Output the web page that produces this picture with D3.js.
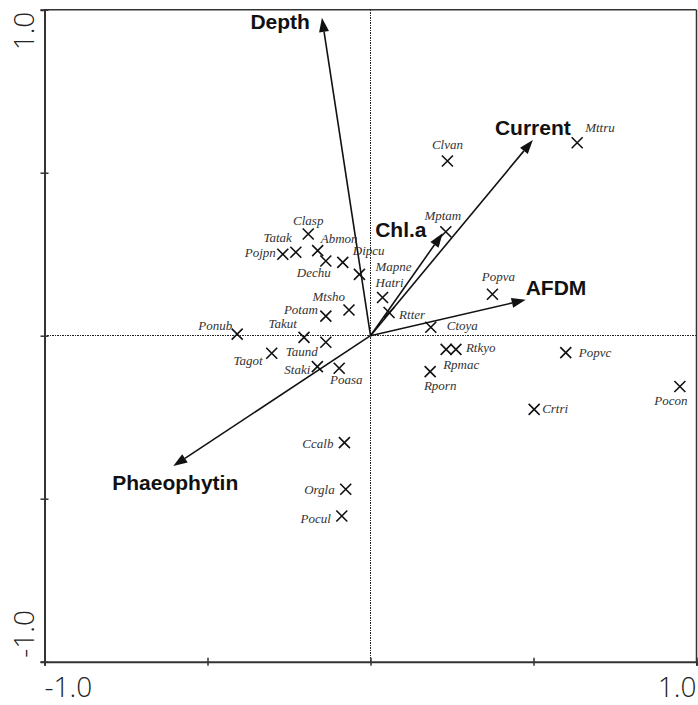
<!DOCTYPE html>
<html><head><meta charset="utf-8">
<script src="https://cdn.jsdelivr.net/npm/d3@7"></script>
<style>body{margin:0;background:#fff}svg{display:block}</style>
</head><body>
<svg id="c" width="698" height="705"></svg>
<script>
// Species scores (axis 1, axis 2)
const species = ["Clasp","Tatak","Pojpn","Abmon","Dechu","Dipcu","Mapne","Hatri","Rtter","Mtsho","Potam","Ponub","Takut","Taund","Tagot","Staki","Poasa","Ccalb","Orgla","Pocul","Clvan","Mttru","Mptam","Popva","Ctoya","Rpmac","Rtkyo","Rporn","Popvc","Crtri","Pocon"];
const speciesX = [-0.191,-0.229,-0.269,-0.162,-0.137,-0.085,-0.034,0.037,0.057,-0.066,-0.137,-0.409,-0.204,-0.137,-0.303,-0.163,-0.096,-0.080,-0.076,-0.088,0.236,0.634,0.231,0.374,0.185,0.232,0.262,0.183,0.599,0.502,0.949];
const speciesY = [0.312,0.256,0.250,0.261,0.229,0.225,0.188,0.117,0.071,0.079,0.060,0.005,-0.005,-0.020,-0.054,-0.095,-0.100,-0.328,-0.471,-0.553,0.536,0.592,0.319,0.127,0.026,-0.042,-0.042,-0.110,-0.052,-0.226,-0.156];
// Environmental variables (arrow tips)
const variables = ["Depth","Current","Chl.a","AFDM","Phaeophytin"];
const varX = [-0.149,0.498,0.221,0.476,-0.605];
const varY = [0.975,0.600,0.314,0.110,-0.400];
// Axis ticks
const tickValues = [-1,-0.5,0,0.5,1];
const tickLabels = ["-1.0","1.0"];

// Layout: label offsets [dx, dy, anchor]
const spLabelPos = {
  Clasp:[0,-9,"middle"], Tatak:[-4,-10,"end"], Pojpn:[-7,3,"end"], Abmon:[3,-8,"start"],
  Dechu:[-12,16,"middle"], Dipcu:[10,-7,"start"], Mapne:[16,-3,"start"], Hatri:[-7,-11,"start"],
  Rtter:[10,6,"start"], Mtsho:[-4,-9,"end"], Potam:[-8,-2,"end"], Ponub:[-5,-4,"end"],
  Takut:[-7,-9,"end"], Taund:[-8,14,"end"], Tagot:[-9,12,"end"], Staki:[-7,7,"end"],
  Poasa:[7,16,"middle"], Ccalb:[-11,5,"end"], Orgla:[-11,5,"end"], Pocul:[-11,7,"end"],
  Clvan:[0,-12,"middle"], Mttru:[8,-11,"start"], Mptam:[-3,-12,"middle"], Popva:[6,-13,"middle"],
  Ctoya:[16,3,"start"], Rpmac:[-3,20,"start"], Rtkyo:[10,3,"start"], Rporn:[10,18,"middle"],
  Popvc:[13,4,"start"], Crtri:[8,4,"start"], Pocon:[-9,18,"middle"]
};
const varLabelPos = {
  "Depth":[-12,11,"end"], "Current":[0,-5,"middle"], "Chl.a":[-16,4,"end"],
  "AFDM":[0,-5,"start"], "Phaeophytin":[2,24,"middle"]
};

const svg = d3.select("#c");
const x = d3.scaleLinear().domain([-1,1]).range([44.5,696.5]);
const y = d3.scaleLinear().domain([-1,1]).range([661.7,9.7]);
const axCol = "#333";

// crosshair dotted lines
svg.append("line").attr("x1",x(0)).attr("x2",x(0)).attr("y1",y(1)).attr("y2",y(-1))
  .attr("stroke","#222").attr("stroke-width",1).attr("stroke-dasharray","1.5,1")
  .attr("shape-rendering","crispEdges");
svg.append("line").attr("x1",x(-1)).attr("x2",x(1)).attr("y1",y(0)).attr("y2",y(0))
  .attr("stroke","#222").attr("stroke-width",1).attr("stroke-dasharray","1.5,1")
  .attr("shape-rendering","crispEdges");

// frame top and right
svg.append("line").attr("x1",x(-1)).attr("x2",x(1)).attr("y1",y(1)).attr("y2",y(1))
  .attr("stroke",axCol).attr("stroke-width",1.5);
svg.append("line").attr("x1",x(1)).attr("x2",x(1)).attr("y1",y(1)).attr("y2",y(-1))
  .attr("stroke",axCol).attr("stroke-width",1.5);

// axes
const gx = svg.append("g").attr("transform",`translate(0,${y(-1)})`)
  .call(d3.axisBottom(x).tickValues(tickValues).tickSize(4).tickFormat(""));
const gy = svg.append("g").attr("transform",`translate(${x(-1)},0)`)
  .call(d3.axisLeft(y).tickValues(tickValues).tickSize(4).tickFormat(""));
[gx,gy].forEach(g=>{
  g.select(".domain").attr("stroke",axCol).attr("stroke-width",2);
  g.selectAll(".tick line").attr("stroke",axCol).attr("stroke-width",1.5);
});
gx.selectAll(".tick line").attr("y1",-4).attr("y2",4);
gy.selectAll(".tick line").attr("x1",-4).attr("x2",4);

// axis labels
const axFont = "'Open Sans', 'DejaVu Sans', sans-serif";
svg.append("text").attr("x",x(-1)).attr("y",697).attr("text-anchor","start")
  .attr("font-family",axFont).attr("font-weight",300).attr("font-size",28).attr("fill","#222").text(tickLabels[0]);
svg.append("text").attr("x",x(1)).attr("y",697).attr("text-anchor","end")
  .attr("font-family",axFont).attr("font-weight",300).attr("font-size",28).attr("fill","#222").text(tickLabels[1]);
svg.append("text").attr("transform",`translate(34,${y(1)+2}) rotate(-90)`).attr("text-anchor","end")
  .attr("font-family",axFont).attr("font-weight",300).attr("font-size",28).attr("fill","#222").text(tickLabels[1]);
svg.append("text").attr("transform",`translate(34,${y(-1)-4}) rotate(-90)`).attr("text-anchor","start")
  .attr("font-family",axFont).attr("font-weight",300).attr("font-size",28).attr("fill","#222").text(tickLabels[0]);

// arrows
const ox = x(0), oy = y(0);
const headLen = 14, headW = 5;
variables.forEach((v,i)=>{
  const tx = x(varX[i]), ty = y(varY[i]);
  const ang = Math.atan2(ty-oy, tx-ox);
  const bx = tx - headLen*Math.cos(ang), by = ty - headLen*Math.sin(ang);
  svg.append("line").attr("x1",ox).attr("y1",oy).attr("x2",bx).attr("y2",by)
    .attr("stroke","#111").attr("stroke-width",1.6);
  const px = -Math.sin(ang), py = Math.cos(ang);
  svg.append("polygon").attr("points",
    `${tx},${ty} ${bx+headW*px},${by+headW*py} ${bx-headW*px},${by-headW*py}`)
    .attr("fill","#111");
  const lp = varLabelPos[v];
  svg.append("text").attr("x",tx+lp[0]).attr("y",ty+lp[1]).attr("text-anchor",lp[2])
    .attr("font-family","'Liberation Sans', Arial, sans-serif").attr("font-weight","bold")
    .attr("font-size",21).attr("fill","#111").text(v);
});

// species
const s = 5.5;
species.forEach((sp,i)=>{
  const cx = x(speciesX[i]), cy = y(speciesY[i]);
  svg.append("path").attr("d",`M${cx-s},${cy-s}L${cx+s},${cy+s}M${cx-s},${cy+s}L${cx+s},${cy-s}`)
    .attr("stroke","#111").attr("stroke-width",1.6).attr("fill","none");
  const lp = spLabelPos[sp];
  svg.append("text").attr("x",cx+lp[0]).attr("y",cy+lp[1]).attr("text-anchor",lp[2])
    .attr("font-family","'Liberation Serif', 'Times New Roman', serif").attr("font-style","italic")
    .attr("font-size",13).attr("fill","#333").text(sp);
});
</script>
</body></html>
